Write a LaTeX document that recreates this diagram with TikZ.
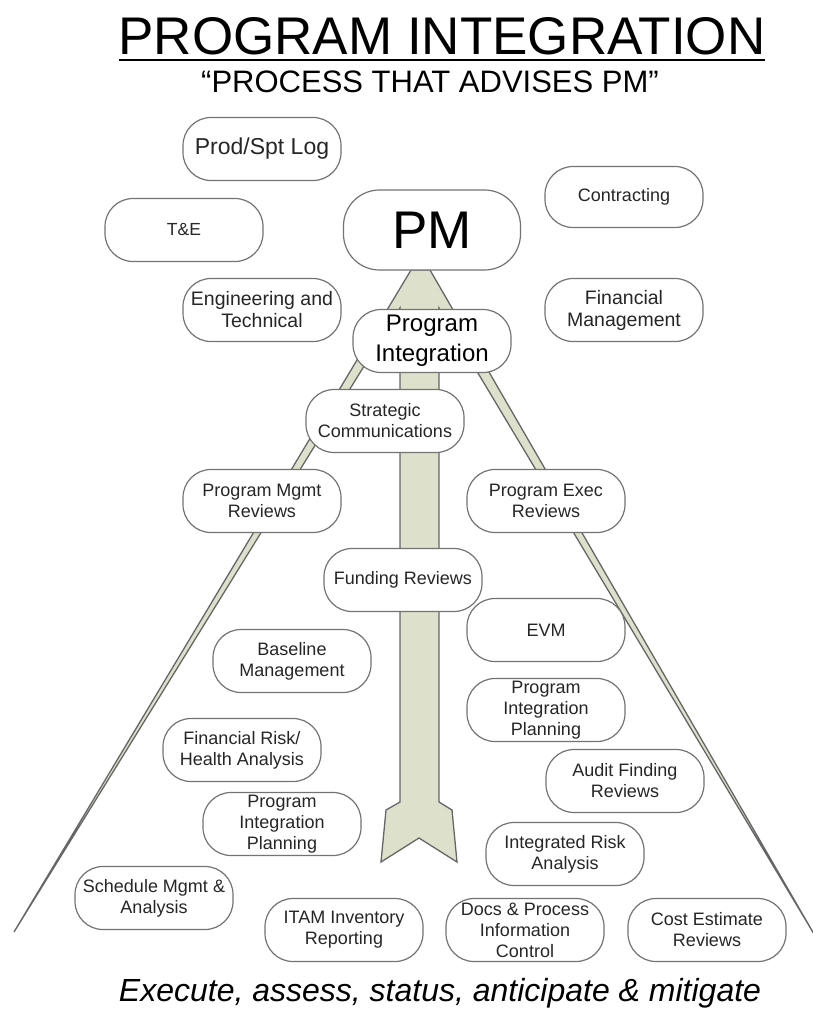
\documentclass[tikz,border=0pt]{standalone}
\usepackage{fontspec}
\setmainfont{Liberation Sans}
\begin{document}
\begin{tikzpicture}[x=1pt,y=-1pt,
  pill/.style={draw=black!55, line width=1.2pt, fill=white, rounded corners=28pt,
    minimum width=158pt, minimum height=63pt, align=center, inner sep=2pt,
    text=black!85, font=\fontsize{18}{21}\selectfont},
  bigpill/.style={pill, rounded corners=36pt, minimum width=177pt, minimum height=80pt,
    text=black, font=\fontsize{53}{60}\selectfont},
  midpill/.style={pill, font=\fontsize{24}{30}\selectfont, text=black},
  widepill/.style={pill, font=\fontsize{19.5}{22}\selectfont},
  shaft/.style={draw=black!60, line width=1.3pt, fill=arrowfill, line join=miter}
]
\definecolor{arrowfill}{RGB}{221,225,204}
\useasboundingbox (0,0) rectangle (812,1028);

% titles
\node[inner sep=0pt] (title) at (442,36) {\fontsize{53}{60}\selectfont PROGRAM INTEGRATION};
\draw[line width=2.4pt] ([xshift=1pt,yshift=-6pt]title.base west) -- ([xshift=-1pt,yshift=-6pt]title.base east);
\node (subtitle) at (430,82) {\fontsize{31}{36}\selectfont “PROCESS THAT ADVISES PM”};
\node (motto) at (440,993) {\fontsize{32}{38}\selectfont\itshape Execute, assess, status, anticipate \& mitigate};

% the spreading arrow below PM
\draw[shaft] (411,270) -- (14,932) -- (400,308) -- (400,802) -- (386,810) -- (381,862)
  -- (419,838) -- (457,862) -- (452,810) -- (439,802) -- (439,308) -- (814,934)
  -- (430,270) -- cycle;

% advising functions
\node[pill, font=\fontsize{23}{27}\selectfont] (prod) at (262,149) {Prod/Spt Log};
\node[pill, font=\fontsize{17.5}{20}\selectfont] (te) at (184,230) {T\&E};
\node[bigpill] (pm) at (432,230) {PM};
\node[pill, minimum height=61pt] (contr) at (624,197) {Contracting};
\node[widepill] (eng) at (262,310) {Engineering and\\Technical};
\node[widepill] (fin) at (624,310) {Financial\\Management};
\node[midpill] (pi) at (432,341) {Program\\Integration};

% program integration activities
\node[pill] (strat) at (385,421) {Strategic\\Communications};
\node[pill] (pmr) at (262,501) {Program Mgmt\\Reviews};
\node[pill] (per) at (546,501) {Program Exec\\Reviews};
\node[pill] (fund) at (403,580) {Funding Reviews};
\node[pill] (evm) at (546,630) {EVM};
\node[pill] (base) at (292,661) {Baseline\\Management};
\node[pill] (pipr) at (546,710) {Program\\Integration\\Planning};
\node[pill] (frisk) at (242,750) {Financial Risk/\\Health Analysis};
\node[pill] (audit) at (625,781) {Audit Finding\\Reviews};
\node[pill] (pipl) at (282,824) {Program\\Integration\\Planning};
\node[pill] (irisk) at (565,854) {Integrated Risk\\Analysis};
\node[pill] (sched) at (154,898) {Schedule Mgmt \&\\Analysis};
\node[pill] (itam) at (344,930) {ITAM Inventory\\Reporting};
\node[pill] (docs) at (525,930) {Docs \& Process\\Information\\Control};
\node[pill] (cost) at (707,930) {Cost Estimate\\Reviews};
\end{tikzpicture}
\end{document}
